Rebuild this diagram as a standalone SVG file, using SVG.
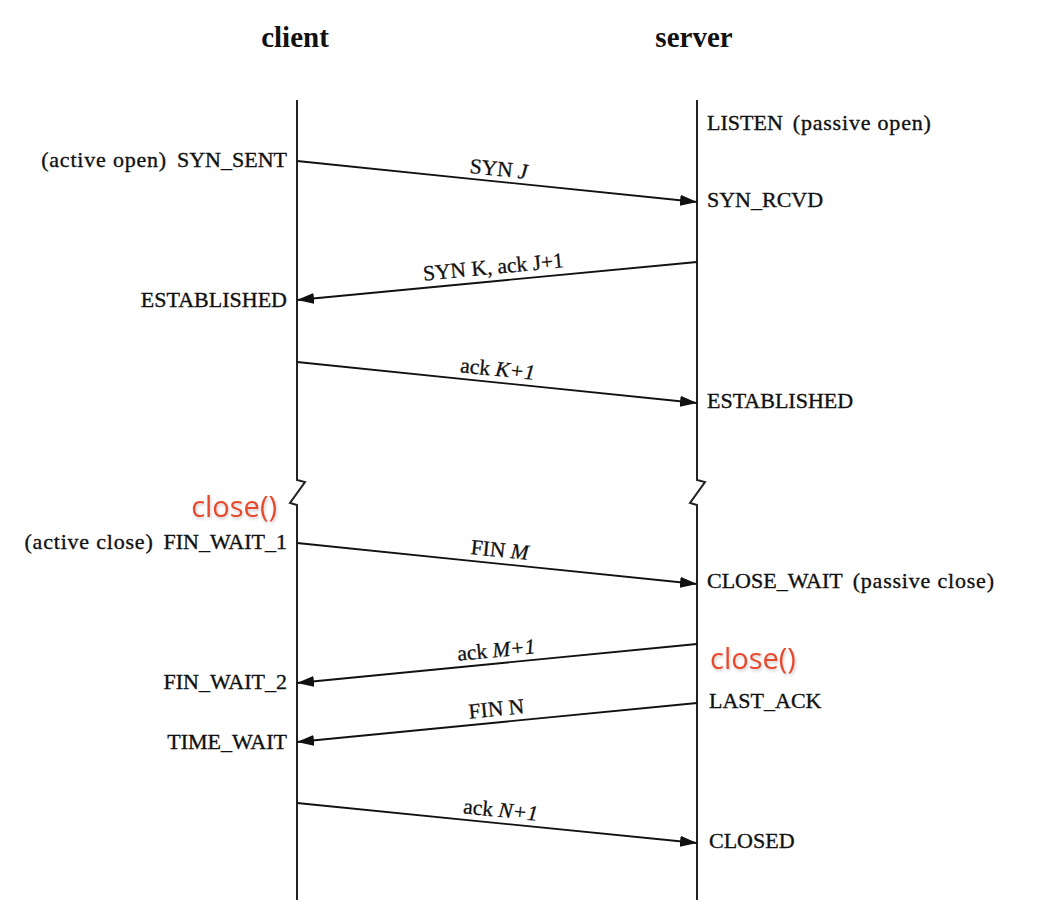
<svg xmlns="http://www.w3.org/2000/svg" width="1046" height="924" viewBox="0 0 1046 924">
<style>
.t{font-family:"Liberation Serif","DejaVu Serif",serif;font-size:22px;fill:#111;stroke:#111;stroke-width:0.35}
.p{letter-spacing:0.8px}
.h{font-family:"Liberation Serif","DejaVu Serif",serif;font-size:29px;font-weight:bold;fill:#111}
.l{font-family:"Liberation Serif","DejaVu Serif",serif;font-size:21.5px;fill:#111;stroke:#111;stroke-width:0.3}
.i{font-style:italic}
.c{font-family:"Open Sans","Liberation Sans",sans-serif;font-size:29px;fill:#e84a2b}
.ln{stroke:#222;stroke-width:2;fill:none}
.ar{stroke:#111;stroke-width:1.8;fill:none;marker-end:url(#ah)}
</style>
<defs>
<marker id="ah" markerUnits="userSpaceOnUse" markerWidth="18" markerHeight="12" refX="17" refY="6" orient="auto">
<path d="M0,0.5 L17,6 L0,11.5 Z" fill="#111"/>
</marker>
<filter id="sh" x="-10%" y="-20%" width="130%" height="150%">
<feDropShadow dx="1" dy="2" stdDeviation="1.5" flood-color="#999" flood-opacity="0.5"/>
</filter>
</defs>
<rect width="1046" height="924" fill="#fff"/>
<g id="client">
<text class="h" x="295" y="47" text-anchor="middle">client</text>
<path class="ln" d="M297,100 V480 L305,482 L290,503 L297,505 V900"/>
</g>
<g id="server">
<text class="h" x="694" y="47" text-anchor="middle">server</text>
<path class="ln" d="M697,100 V480 L705,482 L690,503 L697,505 V900"/>
</g>
<g id="client-states">
<text class="t" x="287" y="167" text-anchor="end"><tspan class="p">(active open)</tspan><tspan dx="10">SYN_SENT</tspan></text>
<text class="t" x="287" y="307" text-anchor="end">ESTABLISHED</text>
<text class="c" x="277" y="517" text-anchor="end" filter="url(#sh)">close()</text>
<text class="t" x="287" y="549" text-anchor="end"><tspan class="p">(active close)</tspan><tspan dx="10">FIN_WAIT_1</tspan></text>
<text class="t" x="287" y="689" text-anchor="end">FIN_WAIT_2</text>
<text class="t" x="287" y="749" text-anchor="end">TIME_WAIT</text>
</g>
<g id="server-states">
<text class="t" x="707" y="130">LISTEN<tspan dx="10" class="p">(passive open)</tspan></text>
<text class="t" x="707" y="207">SYN_RCVD</text>
<text class="t" x="707" y="408">ESTABLISHED</text>
<text class="t" x="707" y="588">CLOSE_WAIT<tspan dx="10" class="p">(passive close)</tspan></text>
<text class="c" x="710" y="669" filter="url(#sh)">close()</text>
<text class="t" x="709" y="708">LAST_ACK</text>
<text class="t" x="709" y="848">CLOSED</text>
</g>
<g id="connectors">
<line class="ar" x1="297" y1="161" x2="697" y2="202"/>
<line class="ar" x1="697" y1="262" x2="297" y2="300"/>
<line class="ar" x1="297" y1="362" x2="697" y2="403"/>
<line class="ar" x1="297" y1="543" x2="697" y2="584"/>
<line class="ar" x1="697" y1="644" x2="297" y2="683"/>
<line class="ar" x1="697" y1="703" x2="297" y2="742"/>
<line class="ar" x1="297" y1="803" x2="697" y2="843"/>
</g>
<g id="labels">
<text class="l" transform="translate(498,176) rotate(5.8)" text-anchor="middle">SYN <tspan class="i">J</tspan></text>
<text class="l" transform="translate(494,274) rotate(-5.4)" text-anchor="middle">SYN K, ack J+1</text>
<text class="l" transform="translate(497,376) rotate(5.8)" text-anchor="middle">ack <tspan class="i">K+1</tspan></text>
<text class="l" transform="translate(499,557) rotate(5.8)" text-anchor="middle">FIN <tspan class="i">M</tspan></text>
<text class="l" transform="translate(497,657) rotate(-5.6)" text-anchor="middle">ack <tspan class="i">M+1</tspan></text>
<text class="l" transform="translate(497,716) rotate(-5.6)" text-anchor="middle">FIN N</text>
<text class="l" transform="translate(500,817) rotate(5.7)" text-anchor="middle">ack <tspan class="i">N+1</tspan></text>
</g>
</svg>
